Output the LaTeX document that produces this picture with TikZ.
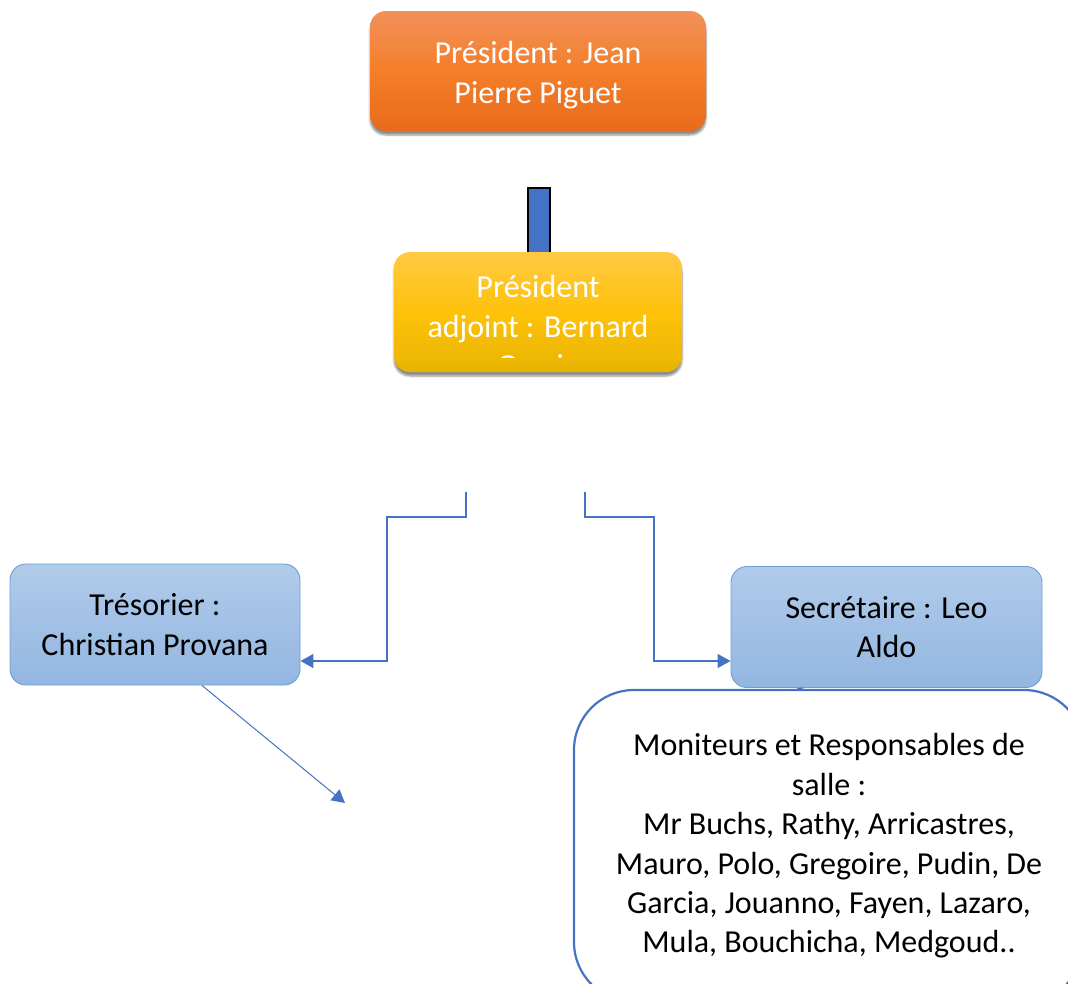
\documentclass[tikz,border=0pt]{standalone}
\usepackage{fontspec}
\setmainfont{Carlito}
\usepackage{xcolor}
\usetikzlibrary{arrows.meta, positioning, shadows.blur, calc}

\definecolor{orangetop}{HTML}{F2915A}
\definecolor{orangemid}{HTML}{F47E2A}
\definecolor{orangebot}{HTML}{E86B1B}
\definecolor{yellowtop}{HTML}{FFC944}
\definecolor{yellowmid}{HTML}{FEC20A}
\definecolor{yellowbot}{HTML}{E8B400}
\definecolor{bluetop}{HTML}{B1CBEA}
\definecolor{bluebot}{HTML}{93B6E1}
\definecolor{blueedge}{HTML}{6C9FD8}
\definecolor{linkblue}{HTML}{4472C4}

\begin{document}
\begin{tikzpicture}[
          x=1pt, y=-1pt,
          every node/.style={font=\fontsize{32}{39.4}\selectfont, align=center},
          headbox/.style={rectangle, rounded corners=16pt, text=white, minimum width=336pt, minimum height=120pt,
            blur shadow={shadow xshift=0pt, shadow yshift=-4pt, shadow blur steps=6, shadow opacity=45}},
          rolebox/.style={rectangle, rounded corners=16pt, draw=blueedge, line width=0.9pt,
            top color=bluetop, bottom color=bluebot, text=black, minimum height=121pt},
          conn/.style={draw=linkblue, line width=1.3pt},
          connarrow/.style={conn, -{Triangle[length=13pt, width=14pt]}}
        ]
          % page frame
          \clip (0,0) rectangle (1068,983);
          \useasboundingbox (0,0) rectangle (1068,983);

          % President
          \node[headbox, top color=orangetop, bottom color=orangebot, middle color=orangemid] (pres) at (538,71)
            {\raisebox{-4pt}[\height][\depth]{Président : Jean}\\\raisebox{-4pt}[\height][\depth]{Pierre Piguet}};

          % Link bar
          \node[rectangle, draw=black, line width=2.4pt, fill=linkblue, minimum width=22pt, minimum height=76pt,
            inner sep=0pt] (link) at (539,226) {};

          % Vice president (text runs past the box and is cut)
          \node[headbox, minimum width=288pt, top color=yellowtop, bottom color=yellowbot, middle color=yellowmid,
            path picture={
              \clip (path picture bounding box.north west) rectangle ([yshift=15pt]path picture bounding box.south east);
              \node[text=white, anchor=north] at ([yshift=-14pt]path picture bounding box.north)
              {Président\\adjoint : Bernard\\Garcia};}] (adj) at (538,312) {};

          % Treasurer and secretary
          \node[rolebox, minimum width=290pt] (tres) at (155,624.5) {Trésorier :\\Christian Provana};
          \node[rolebox, minimum width=311pt] (sec) at (886.5,627) {Secrétaire : Leo\\Aldo};

          % Coaches box
          \node[rectangle, rounded corners=60pt, draw=linkblue, line width=2.2pt, fill=white,
            minimum width=510pt, minimum height=312pt] (mon) at (829,846)
            {Moniteurs et Responsables de\\salle :\\Mr Buchs, Rathy, Arricastres,\\Mauro, Polo, Gregoire, Pudin, De\\Garcia, Jouanno, Fayen, Lazaro,\\Mula, Bouchicha, Medgoud..};

          % Connectors
          \coordinate (lstart) at (466,492);
          \coordinate (rstart) at (585,492);
          \coordinate (tend) at (345,803);
          \draw[connarrow] (lstart) |- (387,517) |- ([yshift=-36.5pt]tres.east);
          \draw[connarrow] (rstart) |- (654,517) |- ([yshift=-34pt]sec.west);
          \draw[connarrow, line width=1pt] ([xshift=47pt]tres.south) -- (tend);
          \draw[conn, line width=1pt] ([xshift=-83pt]sec.south) -- ([xshift=-32pt]mon.north);
        \end{tikzpicture}
\end{document}
